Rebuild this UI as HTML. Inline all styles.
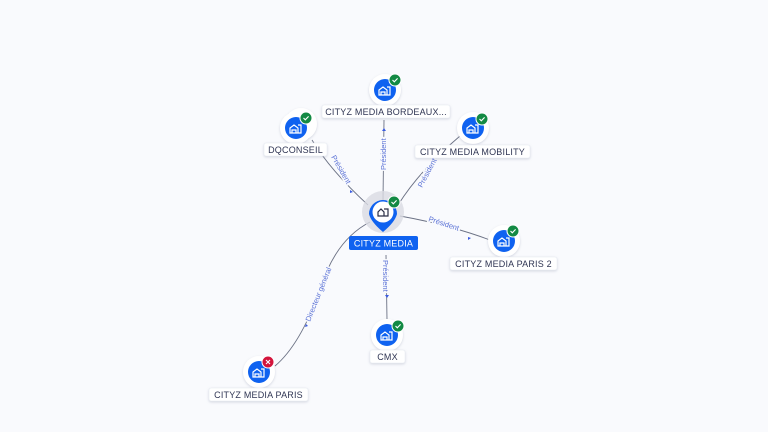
<!DOCTYPE html>
<html><head><meta charset="utf-8"><style>
html,body{margin:0;padding:0;background:#f9fafd;}
svg{display:block;font-family:"Liberation Sans",sans-serif;}
.lbl{fill:#fff;stroke:#e6e9f0;stroke-width:.5}
.lt{font-size:9px;fill:#2f3553;text-anchor:middle;letter-spacing:.2px}
.el{font-size:7.5px;fill:#5b72d6;stroke:#f9fafd;stroke-width:3px;paint-order:stroke;}
.e{fill:none;stroke:#6b7184;stroke-width:.9}
</style></head><body>
<svg width="768" height="432" viewBox="0 0 768 432">
<defs>
<filter id="sh" x="-50%" y="-50%" width="200%" height="200%"><feDropShadow dx="0" dy="1" stdDeviation="1.2" flood-color="#8890a8" flood-opacity=".35"/></filter>
<g id="ic"><path d="M-5,4 V-1 L-1,-4 L3,-1 V4 Z M-3,4 V1 H1 V4 M3,-4 H6 V4 H3" fill="none" stroke="#fff" stroke-width="1.2"/></g>
<g id="ok"><circle r="6" fill="#138a44" stroke="#fff" stroke-width="1"/><path d="M-2.5,0 L-0.7,1.8 L2.6,-1.6" fill="none" stroke="#fff" stroke-width="1.1"/></g>
</defs>
<path class="e" d="M383,200 L384,120"/>
<path class="e" d="M368,205 Q330,170 312,140"/>
<path class="e" d="M398,205 Q420,170 460,136"/>
<path class="e" d="M400,216 Q450,225 490,240"/>
<path class="e" d="M386,255 L387,320"/>
<path class="e" d="M370,222 Q335,240 320,290 Q300,345 275,366"/>
<text class="el" transform="translate(386,170) rotate(-90)">Président</text>
<text class="el" transform="translate(331,157) rotate(60)">Président</text>
<text class="el" transform="translate(422,188) rotate(-62)">Président</text>
<text class="el" transform="translate(428,221) rotate(18)">Président</text>
<text class="el" transform="translate(383,260) rotate(90)">Président</text>
<text class="el" transform="translate(310,322) rotate(-68)">Directeur général</text>
<g fill="#3a5be0"><path d="M382,131 l2,-3 l2,3z"/><path d="M350,190 l3,2 l-3,1z"/><path d="M468,237 l3,1 l-3,2z"/><path d="M385,295 l2,3 l2,-3z"/><path d="M305,327 l1,-3 l2,2z"/></g>
<circle cx="383" cy="212" r="21" fill="#d9dbe2" opacity=".8"/>
<path d="M369,214 A14,14 0 1 1 397,214 Q395,222 383,232 Q371,222 369,214Z" fill="#0f62f0"/>
<circle cx="383" cy="212" r="10.5" fill="#fff"/>
<path d="M378,216 V212 L381,209 L384,212 V216Z M384,209 H388 V216 H384" fill="none" stroke="#2b2f45" stroke-width="1.2"/>
<use href="#ok" x="394" y="202"/>
<rect x="349" y="236" width="69" height="14" rx="2" fill="#0f62f0"/>
<text x="383.5" y="246.5" class="lt" style="fill:#fff">CITYZ MEDIA</text>
<g filter="url(#sh)">
<circle cx="301" cy="124" r="16" fill="#fff"/><circle cx="296" cy="128" r="16" fill="#fff"/>
<circle cx="385" cy="90" r="16" fill="#fff"/>
<circle cx="473" cy="128" r="16" fill="#fff"/>
<circle cx="504" cy="241" r="16" fill="#fff"/>
<circle cx="387" cy="335" r="16" fill="#fff"/>
<circle cx="259" cy="372" r="16" fill="#fff"/>
</g>
<g fill="#0f62f0">
<circle cx="296" cy="128" r="11"/><circle cx="385" cy="90" r="11"/><circle cx="473" cy="128" r="11"/>
<circle cx="504" cy="241" r="11"/><circle cx="387" cy="335" r="11"/><circle cx="259" cy="372" r="11"/>
</g>
<use href="#ic" x="295" y="129"/><use href="#ic" x="384" y="91"/><use href="#ic" x="472" y="129"/>
<use href="#ic" x="503" y="242"/><use href="#ic" x="386" y="336"/><use href="#ic" x="258" y="373"/>
<use href="#ok" x="306" y="118"/><use href="#ok" x="395" y="80"/><use href="#ok" x="482" y="119"/>
<use href="#ok" x="513" y="231"/><use href="#ok" x="398" y="326"/>
<circle cx="268" cy="362" r="6" fill="#d3143c" stroke="#fff" stroke-width="1"/>
<path d="M266,360 l4,4 m0,-4 l-4,4" stroke="#fff" stroke-width="1.1"/>
<g filter="url(#sh)">
<rect class="lbl" x="322" y="105" width="128" height="13" rx="2"/>
<rect class="lbl" x="264" y="143" width="63" height="13" rx="2"/>
<rect class="lbl" x="415" y="145" width="115" height="13" rx="2"/>
<rect class="lbl" x="450" y="257" width="107" height="13" rx="2"/>
<rect class="lbl" x="370" y="350" width="35" height="13" rx="2"/>
<rect class="lbl" x="209" y="388" width="99" height="13" rx="2"/>
</g>
<text class="lt" x="386" y="115">CITYZ MEDIA BORDEAUX...</text>
<text class="lt" x="295.5" y="153">DQCONSEIL</text>
<text class="lt" x="472.5" y="155">CITYZ MEDIA MOBILITY</text>
<text class="lt" x="503.5" y="267">CITYZ MEDIA PARIS 2</text>
<text class="lt" x="387.5" y="360">CMX</text>
<text class="lt" x="258.5" y="398">CITYZ MEDIA PARIS</text>
</svg>
</body></html>
